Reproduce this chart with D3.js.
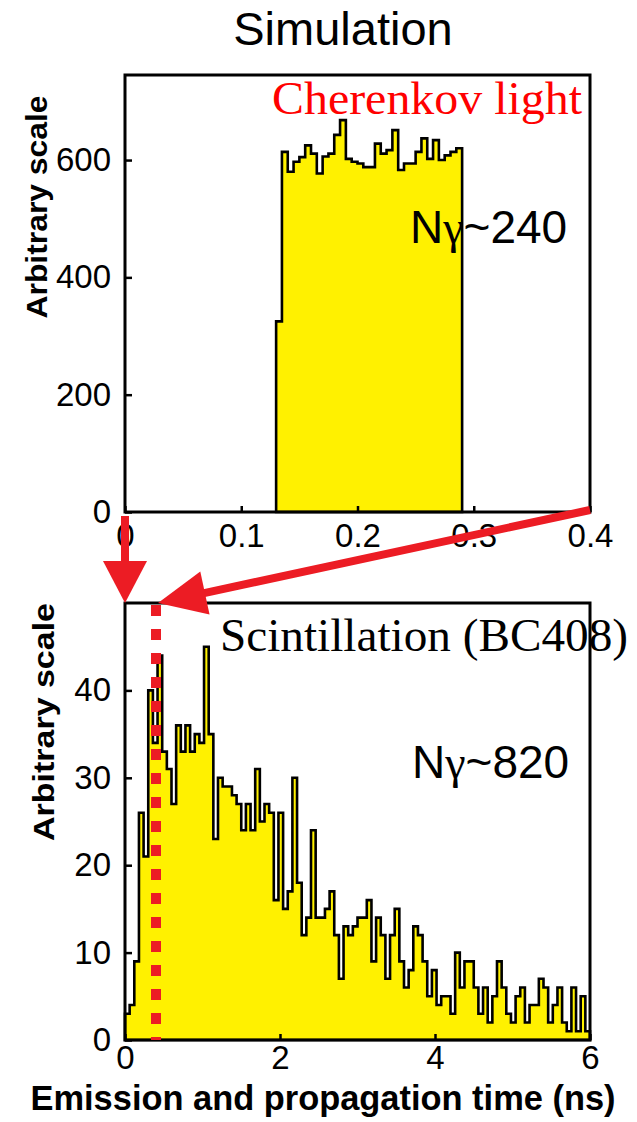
<!DOCTYPE html>
<html>
<head>
<meta charset="utf-8">
<script src="https://cdn.jsdelivr.net/npm/d3@7"></script>
<style>
  body { margin: 0; background: #fff; }
  svg { display: block; }
</style>
</head>
<body>
<svg id="chart" width="637" height="1122"></svg>
<script>
// Cherenkov light (top), bins of 0.005 ns starting at 0.13 ns
var cherenkovStart = 0.13;
var cherenkovBinWidth = 0.005;
var cherenkovCounts = [325, 614, 580, 597, 605, 625, 611, 577, 606, 611, 643, 668, 602, 597, 594, 588,
                       588, 628, 611, 617, 651, 583, 594, 594, 614, 637, 602, 634, 600, 608, 614, 620];

// Scintillation BC408 (bottom), bins of 0.06 ns starting at 0
var scintStart = 0;
var scintBinWidth = 0.06;
var scintCounts = [3, 4, 9, 26, 21, 40, 34, 44, 33, 31, 27, 36, 33, 36, 33, 35, 34, 45, 35, 23,
                   30, 29, 29, 28, 27, 24, 27, 24, 31, 25, 27, 26, 16, 26, 15, 17, 30, 18, 12, 14,
                   24, 14, 14, 15, 17, 12, 7, 13, 12, 13, 14, 14, 16, 9, 14, 12, 7, 12, 15, 9,
                   6, 8, 13, 12, 9, 5, 8, 4, 5, 5, 3, 10, 6, 9, 9, 6, 3, 6, 2, 5,
                   9, 6, 3, 2, 5, 6, 2, 4, 4, 7, 6, 2, 4, 6, 2, 1, 6, 1, 5, 1];

var topXTicks = [0, 0.1, 0.2, 0.3, 0.4];
var topYTicks = [0, 200, 400, 600];
var botXTicks = [0, 2, 4, 6];
var botYTicks = [0, 10, 20, 30, 40];
var cherenkovTime = 0.4; // end of the top window, marked on the bottom plot

var sans = "'Liberation Sans', Arial, sans-serif";
var serif = "'Liberation Serif', 'Times New Roman', serif";
var yellow = "#fff100";
var red = "#ec1c24";

var svg = d3.select("#chart");

var xTop = d3.scaleLinear().domain([0, 0.4]).range([125, 590]);
var yTop = d3.scaleLinear().domain([0, 745]).range([512, 75]);
var xBot = d3.scaleLinear().domain([0, 6]).range([125, 590]);
var yBot = d3.scaleLinear().domain([0, 50]).range([1040, 603]);

function binsToPoints(start, width, counts) {
    var pts = counts.map(function(c, i) { return {x: start + i * width, v: c}; });
    pts.push({x: start + counts.length * width, v: counts[counts.length - 1]});
    return pts;
}

function drawHist(x, y, pts) {
    var area = d3.area()
        .curve(d3.curveStepAfter)
        .x(function(d) { return x(d.x); })
        .y0(y(0))
        .y1(function(d) { return y(d.v); });
    svg.append("path")
        .datum(pts)
        .attr("d", area)
        .attr("fill", yellow)
        .attr("stroke", "#000")
        .attr("stroke-width", 2.6)
        .attr("stroke-linejoin", "miter");
}

function drawAxes(x, y, xticks, yticks, fmt, pad) {
    var gx = svg.append("g")
        .attr("transform", "translate(0," + y.range()[0] + ")")
        .call(d3.axisBottom(x).tickValues(xticks).tickFormat(fmt).tickSizeInner(-6).tickSizeOuter(0).tickPadding(pad));
    var gy = svg.append("g")
        .attr("transform", "translate(" + x.range()[0] + ",0)")
        .call(d3.axisLeft(y).tickValues(yticks).tickSizeInner(-7).tickSizeOuter(0).tickPadding(14));
    [gx, gy].forEach(function(g) {
        g.select(".domain").remove();
        g.attr("font-family", sans).attr("font-size", 33);
        g.selectAll(".tick line").attr("stroke", "#000").attr("stroke-width", 2.5);
        g.selectAll(".tick text").attr("fill", "#000");
    });
    gx.selectAll(".tick text").attr("dy", "0.62em");
    // frame
    svg.append("rect")
        .attr("x", x.range()[0]).attr("y", y.range()[1])
        .attr("width", x.range()[1] - x.range()[0])
        .attr("height", y.range()[0] - y.range()[1])
        .attr("fill", "none").attr("stroke", "#000").attr("stroke-width", 3);
}

// top panel
drawHist(xTop, yTop, binsToPoints(cherenkovStart, cherenkovBinWidth, cherenkovCounts));
drawAxes(xTop, yTop, topXTicks, topYTicks, function(d) { return d === 0 ? "0" : d3.format(".1f")(d); }, 15);

// bottom panel
drawHist(xBot, yBot, binsToPoints(scintStart, scintBinWidth, scintCounts));
drawAxes(xBot, yBot, botXTicks, botYTicks, d3.format("d"), 9);

// dotted marker at the end of Cherenkov window
svg.append("line")
    .attr("x1", xBot(cherenkovTime)).attr("x2", xBot(cherenkovTime))
    .attr("y1", yBot(50) + 2).attr("y2", yBot(0))
    .attr("stroke", red).attr("stroke-width", 10)
    .attr("stroke-dasharray", "11,13");

// texts
svg.append("text").attr("x", 343).attr("y", 45)
    .attr("text-anchor", "middle").attr("font-family", sans).attr("font-size", 47)
    .text("Simulation");

svg.append("text").attr("x", 272).attr("y", 114)
    .attr("font-family", serif).attr("font-size", 46).attr("fill", "#ff0000")
    .attr("textLength", 310).attr("lengthAdjust", "spacingAndGlyphs")
    .text("Cherenkov light");

svg.append("text").attr("x", 220).attr("y", 651)
    .attr("font-family", serif).attr("font-size", 46).attr("fill", "#000")
    .attr("textLength", 408).attr("lengthAdjust", "spacingAndGlyphs")
    .text("Scintillation (BC408)");

function nGamma(x, yb, n) {
    var t = svg.append("text").attr("x", x).attr("y", yb)
        .attr("font-family", sans).attr("font-size", 46).attr("fill", "#000");
    t.append("tspan").text("N");
    t.append("tspan").attr("font-family", serif).text("γ");
    t.append("tspan").text("~" + n);
}
nGamma(410, 243, 240);
nGamma(412, 778, 820);

function yTitle(cx, cy, len) {
    svg.append("text")
        .attr("transform", "translate(" + cx + "," + cy + ") rotate(-90)")
        .attr("text-anchor", "middle")
        .attr("font-family", sans).attr("font-weight", "bold").attr("font-size", 30)
        .attr("textLength", len).attr("lengthAdjust", "spacingAndGlyphs")
        .text("Arbitrary scale");
}
yTitle(47, 207, 223);
yTitle(54, 722, 238);

svg.append("text").attr("x", 323).attr("y", 1110)
    .attr("text-anchor", "middle")
    .attr("font-family", sans).attr("font-weight", "bold").attr("font-size", 35)
    .attr("textLength", 585).attr("lengthAdjust", "spacingAndGlyphs")
    .text("Emission and propagation time (ns)");

// arrows linking the windows
function arrow(x1, y1, x2, y2, headLen, headHalf, shaft) {
    var dx = x2 - x1, dy = y2 - y1, L = Math.sqrt(dx * dx + dy * dy);
    var ux = dx / L, uy = dy / L, px = -uy, py = ux;
    var bx = x2 - ux * headLen, by = y2 - uy * headLen;
    svg.append("line")
        .attr("x1", x1).attr("y1", y1).attr("x2", bx + ux * 2).attr("y2", by + uy * 2)
        .attr("stroke", red).attr("stroke-width", shaft);
    svg.append("path")
        .attr("d", "M" + x2 + "," + y2 +
                   "L" + (bx + px * headHalf) + "," + (by + py * headHalf) +
                   "L" + (bx - px * headHalf) + "," + (by - py * headHalf) + "Z")
        .attr("fill", red);
}
arrow(xTop(0), yTop(0) + 4, xBot(0), yBot(50), 42, 22, 8);
arrow(xTop(0.4), yTop(0) - 2, xBot(cherenkovTime) + 2, yBot(50), 48, 22, 8);
</script>
</body>
</html>
